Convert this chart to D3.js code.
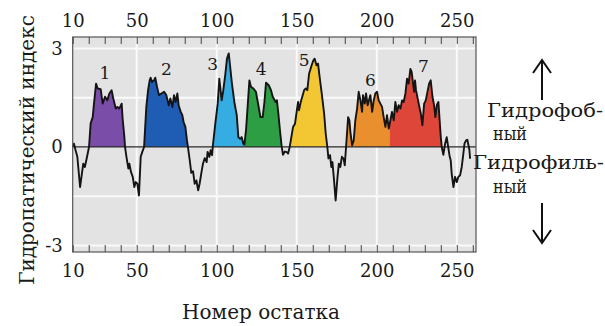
<!DOCTYPE html>
<html>
<head>
<meta charset="utf-8">
<script src="https://cdn.jsdelivr.net/npm/d3@7"></script>
<style>
  body { margin: 0; background: #fff; }
  svg { display: block; }
  text { font-family: "DejaVu Serif", "Liberation Serif", serif; fill: #1a1a1a; }
</style>
</head>
<body>
<script>
// Hydropathy profile (Kyte–Doolittle style), residue number vs. index
const residues = [
  10, 10.8, 11.8, 12.9, 14.6, 16.6, 17.6, 18.7, 20.2, 21.2, 22.5, 23.3, 24.6, 25.6, 27.5, 28.7,
  30.2, 31.6, 32.9, 34.3, 35.4, 36.9, 37.9, 39.1, 40.6, 41.2, 42.3, 42.7, 43.7, 44.8, 45.4, 46.4,
  47.5, 48.5, 49.4, 50.4, 51.4, 52.5, 53.5, 54.6, 56.0, 57.1, 58.1, 58.7, 59.6, 60.8, 61.6, 62.7,
  63.9, 65.4, 67.1, 68.5, 70.0, 71.0, 72.3, 73.3, 74.3, 75.4, 76.2, 77.5, 78.5, 79.3, 80.4, 81.4,
  82.0, 83.1, 84.1, 85.2, 86.2, 87.3, 88.4, 89.3, 90.4, 91.4, 92.5, 93.7, 94.3, 95.4, 96.2, 97.1,
  97.5, 99.1, 100.6, 101.6, 103.1, 104.1, 105.4, 106.4, 107.5, 108.3, 109.5, 111.0, 112.5, 113.5, 114.6, 115.6,
  116.6, 117.3, 118.3, 119.3, 120.4, 121.4, 122.9, 124.5, 126.0, 127.3, 128.7, 129.8, 130.8, 132.5, 133.9, 135.0,
  136.8, 137.6, 138.5, 139.6, 140.6, 141.4, 142.5, 143.5, 144.6, 145.6, 147.7, 148.9, 150.8, 151.4, 152.5, 154.6,
  155.6, 156.6, 157.7, 159.3, 160.4, 161.2, 162.3, 163.3, 164.3, 165.6, 167.1, 168.1, 169.1, 169.8, 170.8, 171.6,
  172.3, 173.3, 174.3, 175.4, 176.3, 177.2, 178.2, 179.3, 180.0, 180.8, 182.1, 182.9, 183.5, 184.6, 185.6, 186.6,
  187.7, 188.7, 189.8, 190.8, 191.4, 192.5, 193.3, 194.3, 196.0, 197.1, 198.1, 199.1, 200.2, 201.2, 203.3, 204.3,
  205.4, 206.4, 207.5, 208.5, 209.5, 210.6, 211.6, 212.7, 213.7, 214.8, 215.8, 216.8, 217.9, 218.9, 219.9, 221.0,
  221.8, 223.3, 223.9, 224.5, 226.6, 227.5, 228.5, 229.6, 230.6, 232.7, 233.7, 234.8, 235.8, 236.6, 237.5, 238.5,
  240.0, 240.6, 241.6, 242.7, 243.7, 245.4, 246.2, 246.8, 247.9, 248.9, 250.0, 251.0, 252.1, 253.1, 254.1, 254.8,
  255.8, 256.6, 257.9, 258.3
];
const hydropathy = [
  0.0, 0.1, -0.1, -0.30, -1.22, -0.51, -0.61, -0.36, 0, 0.71, 0.91, 1.32, 1.93, 1.78, 1.76, 1.32,
  1.53, 1.42, 1.63, 1.73, 1.47, 1.17, 1.22, 1.17, 1.32, 0.86, 0.30, 0, -0.34, -0.66, -0.51, -0.76,
  -0.91, -1.22, -1.07, -1.12, -1.48, -0.30, -0.15, 0, 1.22, 1.73, 2.03, 2.11, 1.98, 2.03, 2.11, 1.83,
  1.58, 1.63, 1.68, 1.58, 1.27, 1.48, 1.22, 1.58, 1.37, 1.63, 1.27, 1.07, 0.97, 0.76, 0.61, 0.20,
  0, -0.39, -0.79, -0.74, -1.12, -1.02, -1.32, -1.12, -0.79, -0.51, -0.34, -0.46, -0.15, -0.30, -0.10, -0.25,
  0, 0.71, 1.32, 2.08, 1.42, 1.73, 2.23, 2.69, 2.85, 2.49, 1.93, 1.37, 0.97, 0.30, 0.25, 0.30,
  0.10, 0.07, 0.51, 1.22, 2.03, 1.83, 1.78, 1.68, 1.27, 0.91, 0.91, 1.37, 1.96, 1.88, 1.73, 1.53,
  1.37, 1.42, 1.02, 0.46, 0, -0.24, -0.14, -0.15, -0.20, 0, 0.61, 0.71, 1.37, 1.12, 1.37, 1.73,
  1.78, 1.73, 2.23, 2.49, 2.64, 2.69, 2.49, 2.54, 2.13, 1.63, 1.02, 0.41, 0, -0.35, -0.25, -0.61,
  -0.46, -1.02, -1.63, -0.95, -0.51, -0.61, -0.30, -0.36, -0.56, 0, 0.91, 0.81, 0.46, 0.05, 0.20, 0.81,
  1.17, 1.68, 1.42, 1.07, 1.58, 1.32, 1.63, 1.27, 1.58, 1.07, 1.42, 1.63, 1.68, 1.42, 1.22, 0.91,
  0.61, 0.97, 0.56, 0.81, 1.07, 0.81, 1.37, 1.07, 1.27, 1.17, 1.42, 1.37, 1.63, 2.08, 1.93, 2.38,
  2.29, 1.68, 2.03, 1.73, 1.22, 1.02, 0.66, 1.32, 1.42, 1.93, 2.03, 1.53, 1.27, 0.91, 1.27, 1.37,
  0.30, 0, -0.24, 0.10, 0.30, -0.25, -0.41, -0.81, -1.22, -0.91, -1.07, -0.91, -0.86, -0.61, -0.20, 0.10,
  0.20, 0.22, -0.10, -0.36
];

// Hydrophobic segments (residue ranges) and their numbering
const segmentNames = ["1", "2", "3", "4", "5", "6", "7"];
const segmentStart = [20.2, 54.6, 97.5, 117.3, 145.6, 180.8, 208.0];
const segmentEnd   = [42.7, 82.0, 117.3, 140.6, 169.1, 208.0, 240.6];
// anchor of each segment number, in residue / index units
const labelResidue = [30.2, 68.5, 97.5, 127.7, 154.6, 196.0, 229.1];
const labelIndex   = [2.25, 2.36, 2.52, 2.39, 2.64, 2.05, 2.46];

const xTickLabels = [10, 50, 100, 150, 200, 250];
const yTickLabels = [-3, 0, 3];
const yGrid = [-3, -1.5, 1.5, 3];
const xGrid = [50, 100, 150, 200, 250];

const segmentColors = ["#7a4ea8", "#1f5db5", "#35ace2", "#2e9e45", "#f2c733", "#ea8f2e", "#df463a"];

const W = 605, H = 326;
const svg = d3.select("body").append("svg").attr("width", W).attr("height", H);

const x = d3.scaleLinear().domain([10, 262]).range([72.7, 476]);
const y = d3.scaleLinear().domain([-3.2, 3.35]).range([252, 37]);
const [x0, x1] = x.range();
const [yb, yt] = y.range();

const data = residues.map((r, i) => ({ r, v: hydropathy[i] }));

// plot background
svg.append("rect")
  .attr("x", x0).attr("y", yt).attr("width", x1 - x0).attr("height", yb - yt)
  .attr("fill", "#e3e3e3");

// white grid
svg.append("g").selectAll("line").data(yGrid).join("line")
  .attr("x1", x0).attr("x2", x1)
  .attr("y1", d => y(d)).attr("y2", d => y(d))
  .attr("stroke", "#fafafa").attr("stroke-width", 2);
svg.append("g").selectAll("line").data(xGrid).join("line")
  .attr("y1", yt).attr("y2", yb)
  .attr("x1", d => x(d)).attr("x2", d => x(d))
  .attr("stroke", "#fafafa").attr("stroke-width", 2);

// coloured hydrophobic segments
const defs = svg.append("defs");
const area = d3.area()
  .x(d => x(d.r))
  .y0(y(0))
  .y1(d => y(Math.max(0, d.v)));

segmentNames.forEach((name, i) => {
  defs.append("clipPath").attr("id", "seg" + i)
    .append("rect")
    .attr("x", x(segmentStart[i])).attr("y", yt)
    .attr("width", x(segmentEnd[i]) - x(segmentStart[i]))
    .attr("height", yb - yt);
  svg.append("path")
    .datum(data)
    .attr("clip-path", `url(#seg${i})`)
    .attr("d", area)
    .attr("fill", segmentColors[i]);
});

// zero line
svg.append("line")
  .attr("x1", x0).attr("x2", x1)
  .attr("y1", y(0)).attr("y2", y(0))
  .attr("stroke", "#2a2a2a").attr("stroke-width", 1.3);

// profile
svg.append("path")
  .datum(data)
  .attr("d", d3.line().x(d => x(d.r)).y(d => y(d.v)))
  .attr("fill", "none")
  .attr("stroke", "#141414")
  .attr("stroke-width", 1.9)
  .attr("stroke-linejoin", "round");

// segment numbers
svg.append("g").selectAll("text").data(segmentNames).join("text")
  .attr("x", (d, i) => x(labelResidue[i]))
  .attr("y", (d, i) => y(labelIndex[i]))
  .attr("text-anchor", "middle")
  .attr("dominant-baseline", "central")
  .attr("font-size", 17)
  .text(d => d);

// frame
svg.append("rect")
  .attr("x", x0).attr("y", yt).attr("width", x1 - x0).attr("height", yb - yt)
  .attr("fill", "none").attr("stroke", "#555").attr("stroke-width", 1.2);

// minor ticks every 10 residues, top and bottom
const minor = d3.range(10, 261, 10);
const tickStyle = g => {
  g.select(".domain").remove();
  g.selectAll(".tick line").attr("stroke", "#444").attr("stroke-width", 1);
};
svg.append("g").attr("transform", `translate(0,${yt})`)
  .call(d3.axisTop(x).tickValues(minor).tickSize(-7).tickFormat(""))
  .call(tickStyle);
svg.append("g").attr("transform", `translate(0,${yb})`)
  .call(d3.axisBottom(x).tickValues(minor).tickSize(-7).tickFormat(""))
  .call(tickStyle);

// tick labels
const labelStyle = g => {
  g.select(".domain").remove();
  g.selectAll(".tick line").remove();
  g.selectAll("text").attr("font-family", null).attr("font-size", 18).attr("fill", "#1a1a1a");
};
svg.append("g").attr("transform", `translate(0,${yt})`)
  .call(d3.axisTop(x).tickValues(xTickLabels).tickSize(0).tickPadding(10))
  .call(labelStyle);
svg.append("g").attr("transform", `translate(0,${yb})`)
  .call(d3.axisBottom(x).tickValues(xTickLabels).tickSize(0).tickPadding(12))
  .call(labelStyle);
svg.append("g").attr("transform", `translate(${x0},0)`)
  .call(d3.axisLeft(y).tickValues(yTickLabels).tickSize(0).tickPadding(10)
    .tickFormat(d => d < 0 ? "-" + Math.abs(d) : String(d)))
  .call(labelStyle);

// axis titles
svg.append("text")
  .attr("transform", "translate(27,150) rotate(-90)")
  .attr("text-anchor", "middle")
  .attr("dominant-baseline", "central")
  .attr("font-size", 20)
  .text("Гидропатический индекс");
svg.append("text")
  .attr("x", 261).attr("y", 312)
  .attr("text-anchor", "middle")
  .attr("dominant-baseline", "central")
  .attr("font-size", 20)
  .text("Номер остатка");

// hydrophobic / hydrophilic side note
const note = svg.append("g");
[["Гидрофоб-", 487, 110, 116], ["ный", 493, 133, 34], ["Гидрофиль-", 473, 162, 131], ["ный", 493, 186, 34]]
  .forEach(([t, sx, cy, len]) => {
    note.append("text").attr("x", sx).attr("y", cy)
      .attr("text-anchor", "start").attr("dominant-baseline", "central")
      .attr("font-size", 19)
      .attr("textLength", len).attr("lengthAdjust", "spacingAndGlyphs")
      .text(t);
  });
const arrow = (xa, yTip, yTail, dir) => {
  note.append("line").attr("x1", xa).attr("x2", xa).attr("y1", yTip).attr("y2", yTail)
    .attr("stroke", "#111").attr("stroke-width", 2);
  note.append("path")
    .attr("d", `M${xa - 9},${yTip + dir * 13} L${xa},${yTip} L${xa + 9},${yTip + dir * 13}`)
    .attr("fill", "none").attr("stroke", "#111").attr("stroke-width", 2);
};
arrow(542, 60, 100, 1);
arrow(542, 243, 203, -1);
</script>
</body>
</html>
